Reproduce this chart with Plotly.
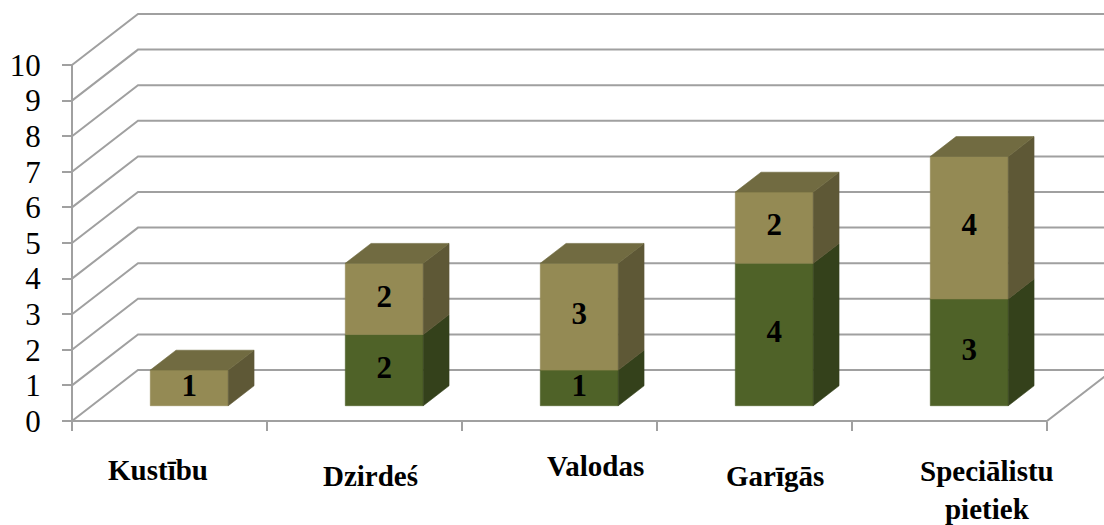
import plotly.graph_objects as go

# ---- data ----
categories = ["Kustību", "Dzirdeś", "Valodas", "Garīgās", "Speciālistu<br>pietiek"]
series_green = [0, 2, 1, 4, 3]   # lower segment
series_tan = [1, 2, 3, 2, 4]     # upper segment
y_ticks = list(range(0, 11))

# ---- styling / geometry (projection of the 3D frame) ----
DX = 66 / 195          # depth offset in category units
DY = 51 / 35.6         # depth offset in value units
BAR_W = 0.4
D0, D1 = 0.30, 0.69    # bar depth span (fraction of floor depth)
GRID = "#A0A0A0"
GREEN = dict(front="#4F6228", side="#34411B", top="#3F4E1F")
TAN = dict(front="#948A54", side="#5E5836", top="#716B41")
SERIF = "Liberation Serif"

PX_X, PX_Y = 195.0, 35.6
ML, MB = 60, 95
W, H = 1104, 525
PH = H - MB
x0 = -(72 - ML) / PX_X
x1 = x0 + (W - ML) / PX_X
y0 = -(PH - 421) / PX_Y
y1 = y0 + PH / PX_Y

fig = go.Figure()

def line(xs, ys):
    fig.add_trace(go.Scatter(x=xs, y=ys, mode="lines", hoverinfo="skip",
                             line=dict(color=GRID, width=2), showlegend=False))

# back wall grid lines + left wall diagonals
for v in y_ticks:
    line([0, DX, x1 + 1], [v, v + DY, v + DY])
# front value axis line
line([0, 0], [0, max(y_ticks)])
# floor front edge + right diagonal
n = len(categories)
line([0, n, n + DX, x1 + 1], [0, 0, DY, DY])

def poly(pts_list, color):
    xs, ys = [], []
    for pts in pts_list:
        for (px, py) in pts:
            xs.append(px); ys.append(py)
        xs.append(pts[0][0]); ys.append(pts[0][1])
        xs.append(None); ys.append(None)
    fig.add_trace(go.Scatter(x=xs, y=ys, mode="lines", fill="toself", fillcolor=color,
                             line=dict(color=color, width=0.6), hoverinfo="skip",
                             showlegend=False))

def box_faces(i, b, t):
    xl = i + 0.5 - BAR_W / 2 + D0 * DX
    xr = xl + BAR_W
    dd = D1 - D0
    front = [(xl, b + D0 * DY), (xr, b + D0 * DY), (xr, t + D0 * DY), (xl, t + D0 * DY)]
    side = [(xr, b + D0 * DY), (xr + dd * DX, b + D1 * DY), (xr + dd * DX, t + D1 * DY), (xr, t + D0 * DY)]
    topf = [(xl, t + D0 * DY), (xr, t + D0 * DY), (xr + dd * DX, t + D1 * DY), (xl + dd * DX, t + D1 * DY)]
    return front, side, topf

label_x, label_y, label_t = [], [], []
for series, colors, base_from in ((series_green, GREEN, None), (series_tan, TAN, series_green)):
    fronts, sides, tops = [], [], []
    for i, v in enumerate(series):
        if v <= 0:
            continue
        b = base_from[i] if base_from else 0
        t = b + v
        f, s, tp = box_faces(i, b, t)
        fronts.append(f); sides.append(s); tops.append(tp)
        label_x.append(i + 0.5 + D0 * DX)
        label_y.append((b + t) / 2 + D0 * DY)
        label_t.append("<b>%d</b>" % v)
    poly(fronts, colors["front"])
    poly(sides, colors["side"])
    if base_from is not None:
        poly(tops, colors["top"])

fig.add_trace(go.Scatter(x=label_x, y=label_y, text=label_t, mode="text",
                         textfont=dict(family=SERIF, size=31, color="black"),
                         hoverinfo="skip", showlegend=False))

# category labels (staggered as in the reference)
lab_dx = [-12, 6, 36, 20, 37]          # px offsets from category centre
lab_py = [470, 476, 466, 476, 490]     # px centre heights
for i, c in enumerate(categories):
    fig.add_annotation(x=i + 0.5 + lab_dx[i] / PX_X, y=(PH - lab_py[i]) / PH,
                       xref="x", yref="paper", text="<b>%s</b>" % c, showarrow=False,
                       font=dict(family=SERIF, size=29, color="black"),
                       xanchor="center", yanchor="middle")

fig.update_layout(
    width=W, height=H, plot_bgcolor="white", paper_bgcolor="white",
    font=dict(family=SERIF),
    margin=dict(l=ML, r=0, t=0, b=MB, autoexpand=False),
    xaxis=dict(range=[x0, x1], showgrid=False, zeroline=False, showline=False,
               tickvals=list(range(n + 1)), ticks="outside", ticklen=9, tickwidth=2,
               tickcolor=GRID, showticklabels=False, anchor="free", automargin=False,
               position=(0 - y0) / (y1 - y0), fixedrange=True),
    yaxis=dict(range=[y0, y1], showgrid=False, zeroline=False, showline=False,
               tickvals=y_ticks, ticks="outside", ticklen=10, tickwidth=2, tickcolor=GRID,
               tickfont=dict(family=SERIF, size=31, color="black"), ticklabelstandoff=15,
               anchor="free", position=(0 - x0) / (x1 - x0), automargin=False,
               fixedrange=True),
)

fig.write_html("out.html", config={"displayModeBar": False},
               post_script="document.body.style.margin='0px';document.body.style.overflow='hidden';")
